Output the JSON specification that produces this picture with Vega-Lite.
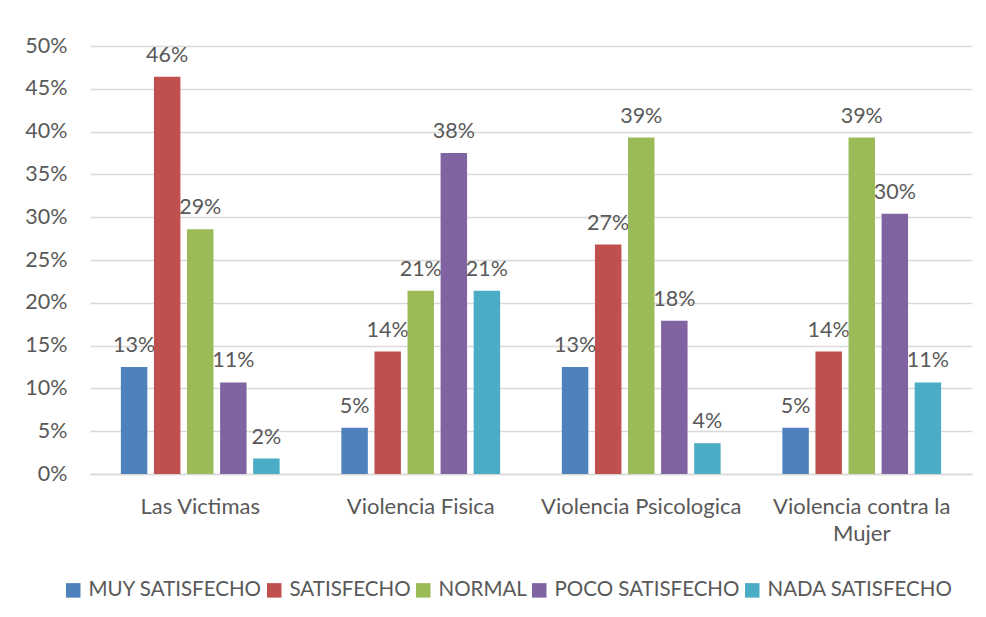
{
  "$schema": "https://vega.github.io/schema/vega-lite/v6.json",
  "width": 882,
  "height": 428,
  "autosize": {"type": "none"},
  "padding": {"left": 90, "top": 46, "right": 14, "bottom": 143},
  "background": "white",
  "data": {
    "values": [
      {"categoria": "Las Victimas", "nivel": "MUY SATISFECHO", "valor": 0.125},
      {"categoria": "Las Victimas", "nivel": "SATISFECHO", "valor": 0.464},
      {"categoria": "Las Victimas", "nivel": "NORMAL", "valor": 0.286},
      {"categoria": "Las Victimas", "nivel": "POCO SATISFECHO", "valor": 0.107},
      {"categoria": "Las Victimas", "nivel": "NADA SATISFECHO", "valor": 0.018},
      {"categoria": "Violencia Fisica", "nivel": "MUY SATISFECHO", "valor": 0.054},
      {"categoria": "Violencia Fisica", "nivel": "SATISFECHO", "valor": 0.143},
      {"categoria": "Violencia Fisica", "nivel": "NORMAL", "valor": 0.214},
      {"categoria": "Violencia Fisica", "nivel": "POCO SATISFECHO", "valor": 0.375},
      {"categoria": "Violencia Fisica", "nivel": "NADA SATISFECHO", "valor": 0.214},
      {"categoria": "Violencia Psicologica", "nivel": "MUY SATISFECHO", "valor": 0.125},
      {"categoria": "Violencia Psicologica", "nivel": "SATISFECHO", "valor": 0.268},
      {"categoria": "Violencia Psicologica", "nivel": "NORMAL", "valor": 0.393},
      {"categoria": "Violencia Psicologica", "nivel": "POCO SATISFECHO", "valor": 0.179},
      {"categoria": "Violencia Psicologica", "nivel": "NADA SATISFECHO", "valor": 0.036},
      {"categoria": "Violencia contra la Mujer", "nivel": "MUY SATISFECHO", "valor": 0.054},
      {"categoria": "Violencia contra la Mujer", "nivel": "SATISFECHO", "valor": 0.143},
      {"categoria": "Violencia contra la Mujer", "nivel": "NORMAL", "valor": 0.393},
      {"categoria": "Violencia contra la Mujer", "nivel": "POCO SATISFECHO", "valor": 0.304},
      {"categoria": "Violencia contra la Mujer", "nivel": "NADA SATISFECHO", "valor": 0.107}
    ]
  },
  "encoding": {
    "x": {
      "field": "categoria",
      "type": "nominal",
      "sort": null,
      "scale": {"paddingInner": 0.25, "paddingOuter": 0.125},
      "axis": {
        "title": null,
        "labelAngle": 0,
        "ticks": false,
        "domainColor": "#D9D9D9",
        "domainWidth": 1.5,
        "labelPadding": 22,
        "labelFontSize": 22,
        "labelLimit": 400,
        "labelLineHeight": 27,
        "labelExpr": "datum.value == 'Violencia contra la Mujer' ? ['Violencia contra la', 'Mujer'] : datum.value"
      }
    },
    "xOffset": {
      "field": "nivel",
      "type": "nominal",
      "sort": null,
      "scale": {"paddingInner": 0.2, "paddingOuter": 0.1}
    },
    "y": {
      "field": "valor",
      "type": "quantitative",
      "scale": {"domain": [0, 0.5]},
      "axis": {
        "title": null,
        "format": ".0%",
        "values": [0, 0.05, 0.1, 0.15, 0.2, 0.25, 0.3, 0.35, 0.4, 0.45, 0.5],
        "domain": false,
        "ticks": false,
        "labelPadding": 23,
        "labelFontSize": 21.5,
        "gridColor": "#D9D9D9",
        "gridWidth": 1.5
      }
    }
  },
  "layer": [
    {
      "mark": {"type": "text", "baseline": "alphabetic", "dy": -15, "fontSize": 21.5, "font": "Lato", "color": "#595959"},
      "encoding": {
        "text": {"field": "valor", "type": "quantitative", "format": ".0%"}
      }
    },
    {
      "mark": {"type": "bar"},
      "encoding": {
        "color": {
          "field": "nivel",
          "type": "nominal",
          "sort": null,
          "scale": {
            "domain": ["MUY SATISFECHO", "SATISFECHO", "NORMAL", "POCO SATISFECHO", "NADA SATISFECHO"],
            "range": ["#4F81BD", "#C0504D", "#9BBB59", "#8064A2", "#4BACC6"]
          },
          "legend": {
            "title": null,
            "orient": "none",
            "direction": "horizontal",
            "legendX": -27,
            "legendY": 534,
            "symbolType": "square",
            "symbolSize": 210,
            "symbolStrokeWidth": 0,
            "symbolOpacity": 1,
            "labelOffset": 5,
            "columnPadding": 2
          }
        }
      }
    }
  ],
  "config": {
    "view": {"stroke": null},
    "font": "Lato",
    "axis": {"labelFont": "Lato", "labelFontSize": 20, "labelColor": "#595959"},
    "legend": {"labelFont": "Lato", "labelFontSize": 20.5, "labelColor": "#595959", "labelLimit": 400}
  }
}
